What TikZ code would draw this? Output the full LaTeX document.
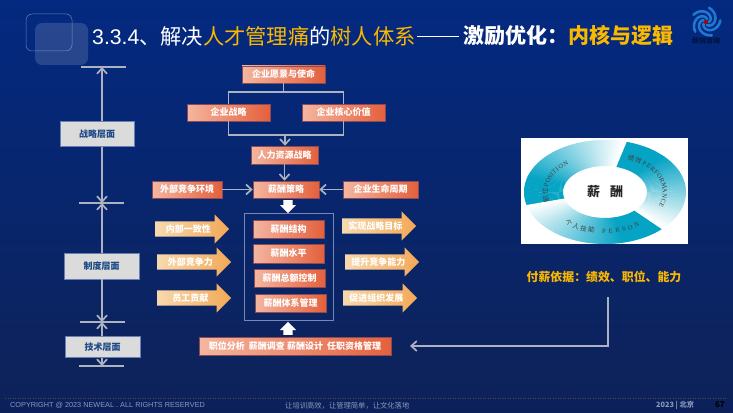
\documentclass[tikz,border=0pt]{standalone}
\usepackage{fontspec}
\setmainfont{Noto Sans CJK SC}
\newfontfamily\latin{Liberation Sans}
\newfontfamily\ringlatin{Liberation Serif}
\usetikzlibrary{shapes.arrows,calc,arrows.meta}
\definecolor{bgtop}{RGB}{3,41,128}
\definecolor{bgbottom}{RGB}{14,34,88}
\definecolor{footblue}{RGB}{12,33,92}
\definecolor{titlegold}{RGB}{250,184,0}
\definecolor{boxlight}{RGB}{244,182,160}
\definecolor{boxdark}{RGB}{228,96,60}
\definecolor{arrowlight}{RGB}{247,217,174}
\definecolor{arrowdark}{RGB}{243,168,87}
\definecolor{linegray}{RGB}{172,178,192}
\definecolor{tealring}{RGB}{5,163,196}
\definecolor{labelblue}{RGB}{28,72,132}
\definecolor{footgray}{RGB}{140,152,182}
\definecolor{logoblue}{RGB}{30,120,210}

\begin{document}
\begin{tikzpicture}[x=1pt,y=-1pt,
    paybox/.style={left color=boxlight, right color=boxdark, draw=boxdark!60!bgtop, line width=.5pt,
        inner sep=0pt, text=white, font=\fontsize{9}{9}\selectfont\bfseries},
    levelbox/.style={fill=black!14, draw=bgtop!60!white, line width=.5pt, inner sep=0pt,
        text=labelblue, font=\fontsize{9}{9}\selectfont\bfseries},
    gainarrow/.style={single arrow, single arrow head extend=7pt, minimum height=74pt, anchor=tail,
        text height=10.5pt, text depth=4.5pt, inner sep=0pt, left color=arrowlight, right color=arrowdark,
        text=white, font=\fontsize{9}{9}\selectfont\bfseries},
    whitearrow/.style={single arrow, single arrow head extend=3.5pt, minimum height=13pt, anchor=tail,
        inner sep=0pt, fill=white},
    link/.style={draw=linegray, line width=1.7pt},
    linkarrow/.style={link, -{Straight Barb[length=5.5pt,width=10pt,line width=1.7pt]}},
    tickline/.style={draw=linegray, line width=1.5pt},
    foot/.style={font=\fontsize{7.3}{7.3}\selectfont, text=footgray},
    ringchar/.style={inner sep=0pt, text=black!75, font=\fontsize{6.5}{6.5}\selectfont},
]
\useasboundingbox (0,0) rectangle (733,412);
\shade[top color=bgtop, bottom color=bgbottom] (0,0) rectangle (733,412);
\fill[footblue] (0,399) rectangle (733,412);
\draw[black!70, line width=.5pt, dotted] (5,398) -- (727,398);

% top left squares
\draw[white!40!bgtop, line width=.5pt, rounded corners=6pt] (26,14) rectangle (72,51);
\fill[white, opacity=.14, rounded corners=7pt] (35,23) rectangle (88,65);

% title
\node[anchor=west, inner sep=0pt, text=white, font=\fontsize{21.25}{21.25}\selectfont] (title) at (92,36)
    {{\latin 3.3.4}、解决\textcolor{titlegold}{人才管理痛}的\textcolor{titlegold}{树人体系}};
\draw[white, line width=1pt] (417,37) -- (459,37);
\node[anchor=west, inner sep=0pt, text=white, font=\fontsize{21}{21}\selectfont\bfseries] (subtitle) at (463,36)
    {激励优化\char"FF1A\textcolor{titlegold}{内核与逻辑}};

% logo
\foreach \a in {0,72,...,288} {
    \draw[logoblue, line width=2.6pt, line cap=round] plot[domain=0:1, samples=12, smooth]
        ({706+(3+11.5*\x)*cos(\a+150*\x)}, {22-(3+11.5*\x)*sin(\a+150*\x)});
}
\fill[red!70!black] (706,22) circle (2pt);
\node[font=\fontsize{7}{7}\selectfont\bfseries, text=black!50!bgtop] (logotext) at (706,41) {新锐咨询};

% level axis
\coordinate (tickA) at (102,67);
\coordinate (tickB) at (102,203);
\coordinate (tickC) at (102,322);
\coordinate (tickD) at (102,366);
\draw[tickline] (81,67) -- (126,67);
\draw[tickline] (79,203) -- (124,203);
\draw[tickline] (80,322) -- (125,322);
\draw[tickline] (79,366) -- (124,366);
\node[levelbox, minimum width=74pt, minimum height=25pt] (strategylevel) at (97,134) {战略层面};
\node[levelbox, minimum width=75pt, minimum height=26pt] (systemlevel) at (101.5,266) {制度层面};
\node[levelbox, minimum width=75pt, minimum height=21pt] (techlevel) at (102.5,347) {技术层面};
\draw[linkarrow] (tickA |- strategylevel.north) -- (tickA);
\draw[linkarrow] (tickA |- strategylevel.south) -- (tickB);
\draw[linkarrow] (tickB |- systemlevel.north) -- (tickB);
\draw[linkarrow] (tickC |- systemlevel.south) -- (tickC);
\draw[linkarrow] (tickC |- techlevel.north) -- (tickC);
\draw[linkarrow] (tickD |- techlevel.south) -- (tickD);

% upper flow
\node[paybox, minimum width=83pt, minimum height=17pt] (vision) at (283.5,74.5) {企业愿景与使命};
\node[paybox, minimum width=83pt, minimum height=17pt] (corpstrategy) at (228.5,112.5) {企业战略};
\node[paybox, minimum width=83pt, minimum height=17pt] (corevalue) at (343.5,112.5) {企业核心价值};
\node[paybox, minimum width=67pt, minimum height=18pt] (hrstrategy) at (284.5,155) {人力资源战略};
\node[paybox, minimum width=66pt, minimum height=17pt] (paystrategy) at (286,189.5) {薪酬策略};
\node[paybox, minimum width=70pt, minimum height=17pt] (environment) at (187,189.5) {外部竞争环境};
\node[paybox, minimum width=75pt, minimum height=17pt] (lifecycle) at (380.5,189.5) {企业生命周期};
\coordinate (fork) at (283.5,92);
\coordinate (merge) at (285,135);
\draw[link] (vision.south) -- (fork);
\draw[link] (corpstrategy.north) -- (corpstrategy.north |- fork) -- (corevalue.north |- fork) -- (corevalue.north);
\draw[link] (corpstrategy.south) -- (corpstrategy.south |- merge) -- (corevalue.south |- merge) -- (corevalue.south);
\draw[linkarrow] (merge) -- (merge |- hrstrategy.north);
\draw[linkarrow] (hrstrategy.south) -- (hrstrategy.south |- paystrategy.north);
\draw[linkarrow] (environment.east) -- (paystrategy.west);
\draw[linkarrow] (lifecycle.west) -- (paystrategy.east);

% pay system
\node[draw=bgtop!55!white, line width=.7pt, minimum width=89pt, minimum height=107pt, inner sep=0pt] (paysystem) at (288.5,266.5) {};
\node[paybox, minimum width=71pt, minimum height=18pt] (structure) at (288.5,229) {薪酬结构};
\node[paybox, minimum width=71pt, minimum height=19pt] (level) at (288.5,253.5) {薪酬水平};
\node[paybox, minimum width=71pt, minimum height=18pt] (budget) at (289.5,278) {薪酬总额控制};
\node[paybox, minimum width=71pt, minimum height=18pt] (manage) at (290.5,303) {薪酬体系管理};
\node[paybox, minimum width=192pt, minimum height=18pt] (basework) at (295,346) {职位分析\ \ 薪酬调查 薪酬设计\ \ 任职资格管理};
\node[whitearrow, rotate=-90] (downarrow) at (288,200) {\rule{0pt}{9pt}};
\node[whitearrow, rotate=90] (uparrow) at (288,335) {\rule{0pt}{9pt}};

% gain arrows
\node[gainarrow] (inner) at (155,229) {内部一致性};
\node[gainarrow] (compete) at (157,262) {外部竞争力};
\node[gainarrow] (staff) at (157,298) {员工贡献};
\node[gainarrow] (goal) at (342,226) {实现战略目标};
\node[gainarrow] (ability) at (345,262) {提升竞争能力};
\node[gainarrow] (growth) at (343,298) {促进组织发展};

% ring picture
\fill[white] (521,138) rectangle (688,244);
\foreach \i in {0,...,59} {
    \pgfmathsetmacro{\pct}{min(100,max(0,135-2.3*\i))}
    \foreach \s in {195,75,-45} {
        \fill[tealring!\pct!white] ({605+81*cos(\s-2*\i)},{192-52*sin(\s-2*\i)}) -- ({605+81*cos(\s-2*\i-2.5)},{192-52*sin(\s-2*\i-2.5)})
            -- ({605+42*cos(\s-2*\i-2.5)},{192-26*sin(\s-2*\i-2.5)}) -- ({605+42*cos(\s-2*\i)},{192-26*sin(\s-2*\i)}) -- cycle;
    }
}
\node[font=\fontsize{13}{13}\selectfont\bfseries, text=black!85] (paycore) at (605,192) {薪\hspace{10pt}酬};
% ring labels, letter by letter
\foreach \ch/\t [count=\n] in {职/191,位/179,\ringlatin P/169,\ringlatin O/162,\ringlatin S/156,\ringlatin I/152,\ringlatin T/147.5,\ringlatin I/143,\ringlatin O/137.5,\ringlatin N/131} {
    \pgfmathsetmacro{\r}{atan2(-38*cos(\t),60*sin(\t))}
    \node[ringchar, rotate=\r] (pos\n) at ({605+60*cos(\t)},{192-38*sin(\t)}) {\ch};
}
\foreach \ch/\t [count=\n] in {绩/64,效/56,\ringlatin P/49,\ringlatin E/43,\ringlatin R/37,\ringlatin F/31,\ringlatin O/25,\ringlatin R/18,\ringlatin M/10,\ringlatin A/2,\ringlatin N/-6,\ringlatin C/-13.5,\ringlatin E/-20} {
    \pgfmathsetmacro{\r}{atan2(-38*cos(\t),60*sin(\t))}
    \node[ringchar, rotate=\r] (perf\n) at ({605+60*cos(\t)},{192-38*sin(\t)}) {\ch};
}
\foreach \ch/\t [count=\n] in {个/-127,人/-119,技/-111,能/-103,\ringlatin P/-91,\ringlatin E/-84.5,\ringlatin R/-78,\ringlatin S/-71.5,\ringlatin O/-65,\ringlatin N/-58} {
    \pgfmathsetmacro{\r}{atan2(39*cos(\t),-60*sin(\t))}
    \node[ringchar, rotate=\r] (pers\n) at ({605+60*cos(\t)},{192-39*sin(\t)}) {\ch};
}

\node[text=titlegold, font=\fontsize{11.9}{11.9}\selectfont\bfseries] (paybasis) at (604,277) {付薪依据\char"FF1A 绩效、职位、能力};
\coordinate (turnstart) at (608,297);
\coordinate (turnend) at (410,346);
\draw[linkarrow] (turnstart) |- (turnend);

% footer
\node[foot, anchor=west, inner sep=0pt] (copyright) at (10,405.5) {\latin COPYRIGHT @ 2023 NEWEAL . ALL RIGHTS RESERVED};
\node[foot, anchor=west, inner sep=0pt] (slogan) at (285,405.5) {让培训高效\char"FF0C 让管理简单\char"FF0C 让文化落地};
\node[foot, anchor=west, inner sep=0pt] (place) at (656,405.5) {\textbf{2023 | 北京}};
\node[anchor=east, inner sep=0pt, font=\fontsize{8}{8}\selectfont\bfseries, text=black] (pagenum) at (725,405) {67};
\end{tikzpicture}
\end{document}
